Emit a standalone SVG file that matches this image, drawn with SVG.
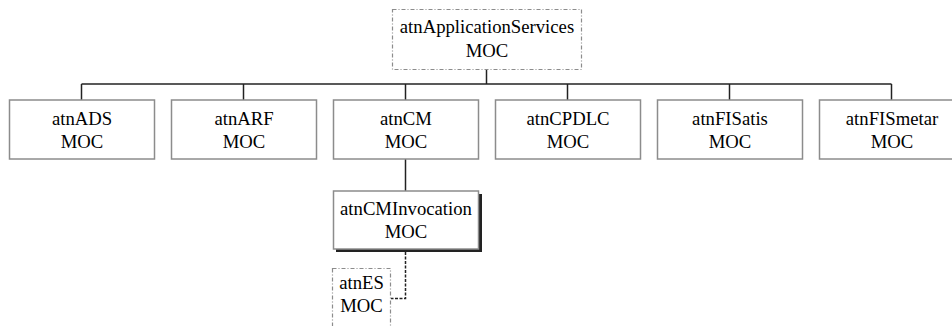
<svg xmlns="http://www.w3.org/2000/svg" width="952" height="326" viewBox="0 0 952 326">
  <style>
    .box { fill: #ffffff; stroke: #8c8c8c; stroke-width: 1.5; }
    .dbox { fill: #ffffff; stroke: #8c8c8c; stroke-width: 1.2; stroke-dasharray: 4 2 1 2; }
    .shadow { fill: #222222; }
    .lbl { font-family: "Liberation Serif", "DejaVu Serif", serif; font-size: 18.7px; fill: #000000; text-anchor: middle; }
    .conn { stroke: #222222; stroke-width: 1.5; fill: none; }
    .dconn { stroke: #222222; stroke-width: 1.5; fill: none; stroke-dasharray: 3 1.5; }
  </style>

  <!-- tree connectors -->
  <g id="connectors">
    <line class="conn" x1="486.5" y1="69" x2="486.5" y2="84"/>
    <line class="conn" x1="81.5" y1="84" x2="891.5" y2="84"/>
    <line class="conn" x1="81.5" y1="84" x2="81.5" y2="100"/>
    <line class="conn" x1="243.5" y1="84" x2="243.5" y2="100"/>
    <line class="conn" x1="405.5" y1="84" x2="405.5" y2="100"/>
    <line class="conn" x1="567.5" y1="84" x2="567.5" y2="100"/>
    <line class="conn" x1="729.5" y1="84" x2="729.5" y2="100"/>
    <line class="conn" x1="891.5" y1="84" x2="891.5" y2="100"/>
    <line class="conn" x1="405.5" y1="159" x2="405.5" y2="191"/>
    <polyline class="dconn" points="405.5,252 405.5,298.5 391,298.5"/>
  </g>

  <g id="atnApplicationServices">
    <rect class="dbox" x="392.5" y="9.5" width="189" height="60"/>
    <text class="lbl" x="487" y="33">atnApplicationServices</text>
    <text class="lbl" x="487" y="57">MOC</text>
  </g>

  <g id="atnADS">
    <rect class="box" x="9.5" y="100" width="145" height="59"/>
    <text class="lbl" x="82" y="125">atnADS</text>
    <text class="lbl" x="82" y="148">MOC</text>
  </g>

  <g id="atnARF">
    <rect class="box" x="171.5" y="100" width="145" height="59"/>
    <text class="lbl" x="244" y="125">atnARF</text>
    <text class="lbl" x="244" y="148">MOC</text>
  </g>

  <g id="atnCM">
    <rect class="box" x="333.5" y="100" width="145" height="59"/>
    <text class="lbl" x="406" y="125">atnCM</text>
    <text class="lbl" x="406" y="148">MOC</text>
  </g>

  <g id="atnCPDLC">
    <rect class="box" x="495.5" y="100" width="145" height="59"/>
    <text class="lbl" x="568" y="125">atnCPDLC</text>
    <text class="lbl" x="568" y="148">MOC</text>
  </g>

  <g id="atnFISatis">
    <rect class="box" x="657.5" y="100" width="145" height="59"/>
    <text class="lbl" x="730" y="125">atnFISatis</text>
    <text class="lbl" x="730" y="148">MOC</text>
  </g>

  <g id="atnFISmetar">
    <rect class="box" x="819.5" y="100" width="145" height="59"/>
    <text class="lbl" x="892" y="125">atnFISmetar</text>
    <text class="lbl" x="892" y="148">MOC</text>
  </g>

  <g id="atnCMInvocation">
    <rect class="shadow" x="336" y="194" width="146" height="58"/>
    <rect class="box" x="333.5" y="191" width="145" height="58"/>
    <text class="lbl" x="406" y="215">atnCMInvocation</text>
    <text class="lbl" x="406" y="238">MOC</text>
  </g>

  <g id="atnES">
    <rect class="dbox" x="332.5" y="268.5" width="58" height="70"/>
    <text class="lbl" x="361.5" y="289">atnES</text>
    <text class="lbl" x="361.5" y="312">MOC</text>
  </g>
</svg>
